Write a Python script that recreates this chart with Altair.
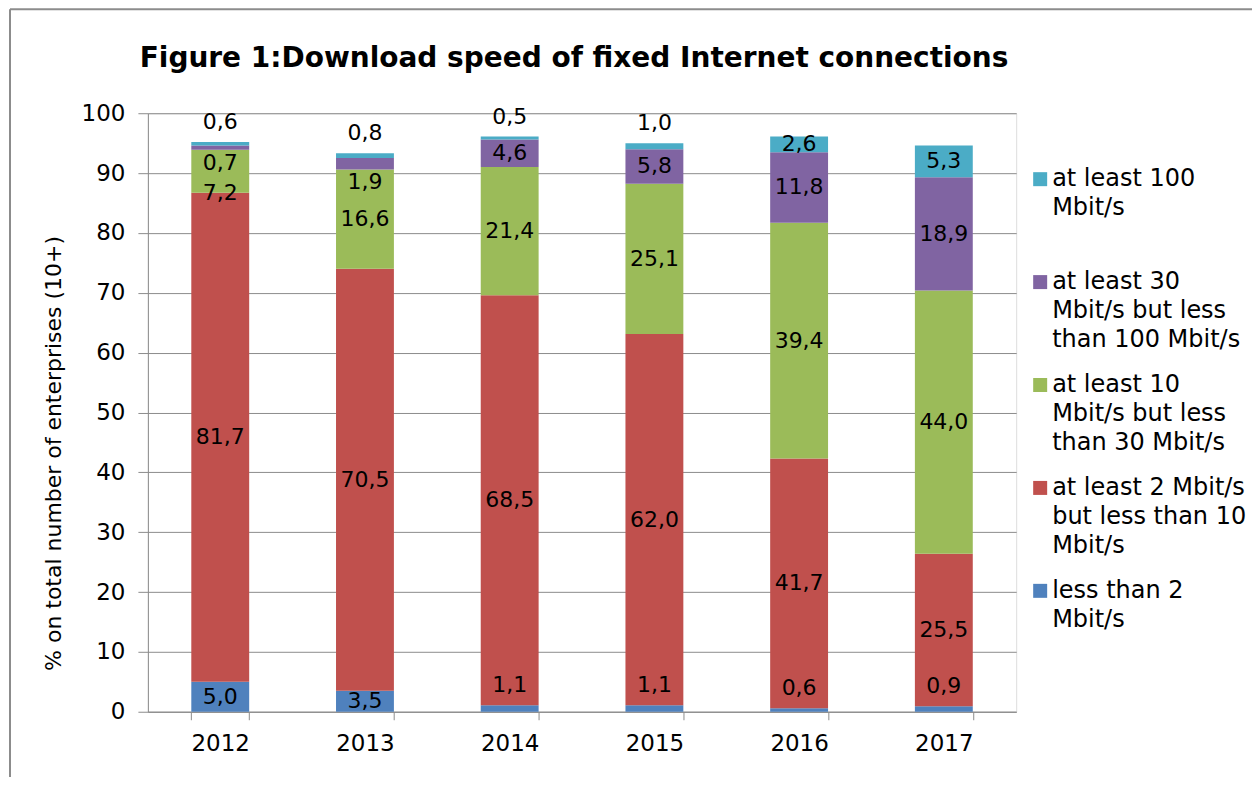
import altair as alt
import pandas as pd

years = ["2012", "2013", "2014", "2015", "2016", "2017"]
series = [
    "\u00a0less than 2|Mbit/s|",
    "at least 2 Mbit/s|but less than 10|Mbit/s",
    "at least 10|Mbit/s but less|than 30 Mbit/s",
    "at least 30|Mbit/s but less|than 100 Mbit/s",
    "at least 100|Mbit/s|",
]
less_than_2 = [5.0, 3.5, 1.1, 1.1, 0.6, 0.9]
from_2_to_10 = [81.7, 70.5, 68.5, 62.0, 41.7, 25.5]
from_10_to_30 = [7.2, 16.6, 21.4, 25.1, 39.4, 44.0]
from_30_to_100 = [0.7, 1.9, 4.6, 5.8, 11.8, 18.9]
at_least_100 = [0.6, 0.8, 0.5, 1.0, 2.6, 5.3]
colors = ["#4F81BD", "#C0504D", "#9BBB59", "#8064A2", "#4BACC6"]

values = [less_than_2, from_2_to_10, from_10_to_30, from_30_to_100, at_least_100]
rows = []
for yi, year in enumerate(years):
    start = 0.0
    for si, name in enumerate(series):
        v = values[si][yi]
        end = start + v
        if si in (0, 4) and v < 2:
            place, ly = "above", end
        elif si == 3 and v < 3:
            place, ly = "below", start
        elif si == 2 and v < 10:
            place, ly = "middle", start
        else:
            place, ly = "middle", (start + end) / 2
        rows.append(dict(year=year, series=name, order=si, value=v, start=start,
                         end=end, label=f"{v:.1f}".replace(".", ","),
                         label_y=ly, place=place))
        start = end
df = pd.DataFrame(rows)

FONT = "DejaVu Sans"
GRAY = "#8c8c8c"

x_enc = alt.X(
    "year:N",
    scale=alt.Scale(paddingInner=0.6, paddingOuter=0.3),
    axis=alt.Axis(title=None, labelAngle=0, labelFontSize=23, labelFont=FONT,
                  labelColor="black", tickBand="extent", tickSize=8,
                  tickColor=GRAY, domainColor=GRAY, labelPadding=13),
)
y_axis = alt.Axis(values=list(range(0, 101, 10)),
                  title="% on total number of enterprises (10+)",
                  titleFont=FONT, titleFontSize=22, titleFontWeight="normal",
                  titleColor="black", titleX=-94, titleY=340,
                  titleBaseline="middle", titleAngle=270,
                  labelFont=FONT, labelFontSize=23, labelColor="black",
                  labelPadding=13, tickSize=10, tickColor=GRAY,
                  domainColor=GRAY, gridColor=GRAY, grid=True)
y_scale = alt.Scale(domain=[0, 100], nice=False)

bars = alt.Chart(df).mark_bar().encode(
    x=x_enc,
    y=alt.Y("start:Q", scale=y_scale, axis=y_axis),
    y2="end:Q",
    color=alt.Color(
        "series:N",
        scale=alt.Scale(domain=series[::-1], range=colors[::-1]),
        legend=alt.Legend(
            title=None, orient="none", legendX=881, legendY=54,
            symbolType="square", symbolSize=196, symbolStrokeWidth=0,
            labelFont=FONT, labelFontSize=24, labelColor="black",
            labelLimit=400, labelExpr="split(datum.label, '|')",
            rowPadding=21, labelOffset=0, padding=0,
        ),
    ),
    order=alt.Order("order:Q"),
)

def text_layer(place, baseline, dy):
    return alt.Chart(df).transform_filter(
        f"datum.place == '{place}'"
    ).mark_text(font=FONT, fontSize=22, color="black",
                baseline=baseline, dy=dy).encode(
        x=x_enc,
        y=alt.Y("label_y:Q", scale=y_scale, axis=y_axis),
        text="label:N",
    )

mid = text_layer("middle", "middle", 0)
above = text_layer("above", "bottom", -8)
below = text_layer("below", "top", 3)

frame_df = pd.DataFrame({"k": [0]})
top_border = alt.Chart(frame_df).mark_rule(color=GRAY, strokeWidth=2).encode(
    x=alt.value(-138), x2=alt.value(1110), y=alt.value(-104))
left_border = alt.Chart(frame_df).mark_rule(color=GRAY, strokeWidth=2).encode(
    x=alt.value(-138), y=alt.value(-104), y2=alt.value(670))

chart = alt.layer(bars, mid, above, below, top_border, left_border).properties(
    width=869, height=599,
    autosize=alt.AutoSizeParams(type="none"),
    padding={"left": 140, "top": 105, "right": 236, "bottom": 65},
    title=alt.Title("Figure 1:Download speed of fixed Internet connections",
                    font=FONT, fontSize=28, fontWeight="bold", color="black",
                    anchor="middle", dx=-8, offset=-65),
).configure_view(fill="#FAEFD8", stroke="transparent").configure(
    background="white",
    style={"guide-label": {"lineHeight": 29}},
)

chart.save("out.html", embed_options={"renderer": "svg", "actions": False})
